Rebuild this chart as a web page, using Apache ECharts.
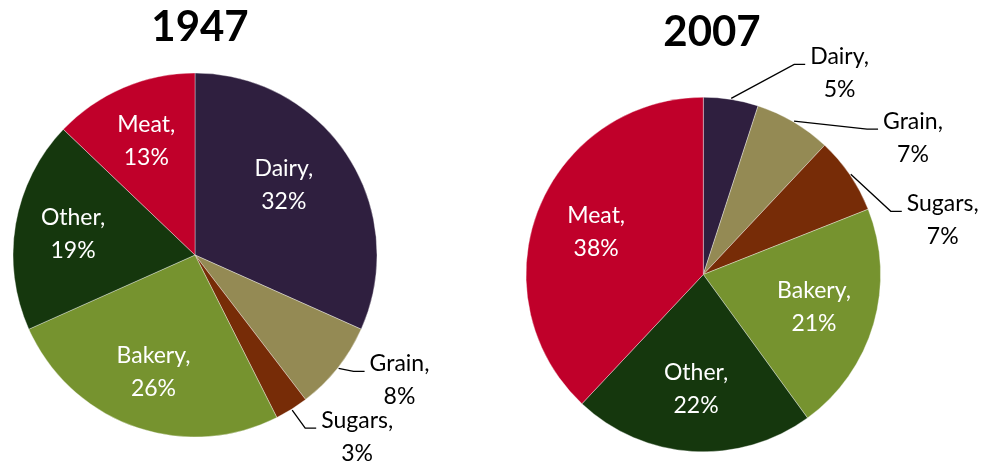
<!DOCTYPE html>
<html>
<head>
<meta charset="utf-8">
<title>Food spending shares, 1947 vs 2007</title>
<script src="https://cdn.jsdelivr.net/npm/echarts@6/dist/echarts.min.js"></script>
<style>
  html, body { margin: 0; padding: 0; background: #ffffff; }
  #chart { width: 984px; height: 466px; }
</style>
</head>
<body>
<div id="chart"></div>
<script>
// Share of spending by food group (percent), in clockwise order from 12 o'clock
const categories = ['Dairy', 'Grain', 'Sugars', 'Bakery', 'Other', 'Meat'];
const share1947 = [32, 8, 3, 26, 19, 13];
const share2007 = [5, 7, 7, 21, 22, 38];
const years = ['1947', '2007'];

// Slice colours, one per food group
const palette = ['#2f1f3f', '#948a54', '#772c07', '#76932f', '#15370d', '#c0002a'];

// Slices smaller than this get their label outside with a leader line
const OUTSIDE_BELOW = 10;

const FONT = 'Lato, "Noto Sans", sans-serif';

// Geometry and label placement for each pie
const pies = [
  {
    values: share1947, cx: 195, cy: 255, r: 182,
    labelFrac: 0.68,
    nudge: { Dairy: [-15, -3] },
    elbows: { Grain: [15, 3], Sugars: [13, 18] }
  },
  {
    values: share2007, cx: 703.3, cy: 274.5, r: 177.3,
    labelFrac: 0.65,
    nudge: {},
    elbows: { Dairy: [63, -34], Grain: [73, 8], Sugars: [40, 37] }
  }
];

// Mid angle of slice i, radians clockwise from 12 o'clock
function midAngle(values, i) {
  const total = values.reduce((a, b) => a + b, 0);
  let before = 0;
  for (let k = 0; k < i; k++) before += values[k];
  return (before + values[i] / 2) / total * Math.PI * 2;
}

function placeLabel(params) {
  const pie = pies[params.seriesIndex];
  const i = params.dataIndex;
  const name = categories[i];
  const a = midAngle(pie.values, i);
  const sx = Math.sin(a), cy = -Math.cos(a);
  if (pie.values[i] >= OUTSIDE_BELOW) {
    const n = pie.nudge[name] || [0, 0];
    const d = pie.r * pie.labelFrac;
    return {
      x: pie.cx + d * sx + n[0],
      y: pie.cy + d * cy + n[1],
      align: 'center',
      verticalAlign: 'middle'
    };
  }
  // outside label: edge -> elbow -> short horizontal run -> text
  const start = [pie.cx + (pie.r + 1) * sx, pie.cy + (pie.r + 1) * cy];
  const e = pie.elbows[name] || [12, 0];
  const elbow = [start[0] + e[0], start[1] + e[1]];
  const end = [elbow[0] + 11, elbow[1]];
  const w = params.labelRect.width;
  return {
    x: end[0] + 5 + w / 2,
    y: end[1] + 9,
    align: 'center',
    verticalAlign: 'middle',
    labelLinePoints: [start, elbow, end]
  };
}

function buildSeries(pie) {
  return {
    type: 'pie',
    center: [pie.cx, pie.cy],
    radius: pie.r,
    startAngle: 90,
    clockwise: true,
    avoidLabelOverlap: false,
    animation: false,
    emphasis: { disabled: true },
    itemStyle: { borderColor: 'rgba(255,255,255,0.6)', borderWidth: 0.6 },
    label: {
      show: true,
      position: 'inside',
      color: '#ffffff',
      fontFamily: FONT,
      fontSize: 23,
      lineHeight: 33,
      overflow: 'none',
      formatter: p => p.name + ',\n' + p.value + '%'
    },
    labelLine: {
      show: true,
      length: 10,
      length2: 10,
      smooth: false,
      lineStyle: { color: '#000000', width: 1.3 }
    },
    labelLayout: placeLabel,
    data: categories.map((name, i) => {
      const outside = pie.values[i] < OUTSIDE_BELOW;
      const item = {
        name: name,
        value: pie.values[i],
        itemStyle: { color: palette[i] }
      };
      if (outside) {
        item.label = { position: 'outside', color: '#000000' };
        item.labelLine = { show: true };
      } else {
        item.labelLine = { show: false };
      }
      return item;
    })
  };
}

const chart = echarts.init(document.getElementById('chart'), null, { renderer: 'canvas' });

chart.setOption({
  backgroundColor: '#ffffff',
  animation: false,
  graphic: [
    {
      type: 'text', x: 200, y: 27,
      style: { text: years[0], align: 'center', verticalAlign: 'middle',
               font: 'bold 42px ' + FONT, fill: '#000000' }
    },
    {
      type: 'text', x: 712, y: 32,
      style: { text: years[1], align: 'center', verticalAlign: 'middle',
               font: 'bold 42px ' + FONT, fill: '#000000' }
    }
  ],
  series: pies.map(buildSeries)
});
</script>
</body>
</html>
